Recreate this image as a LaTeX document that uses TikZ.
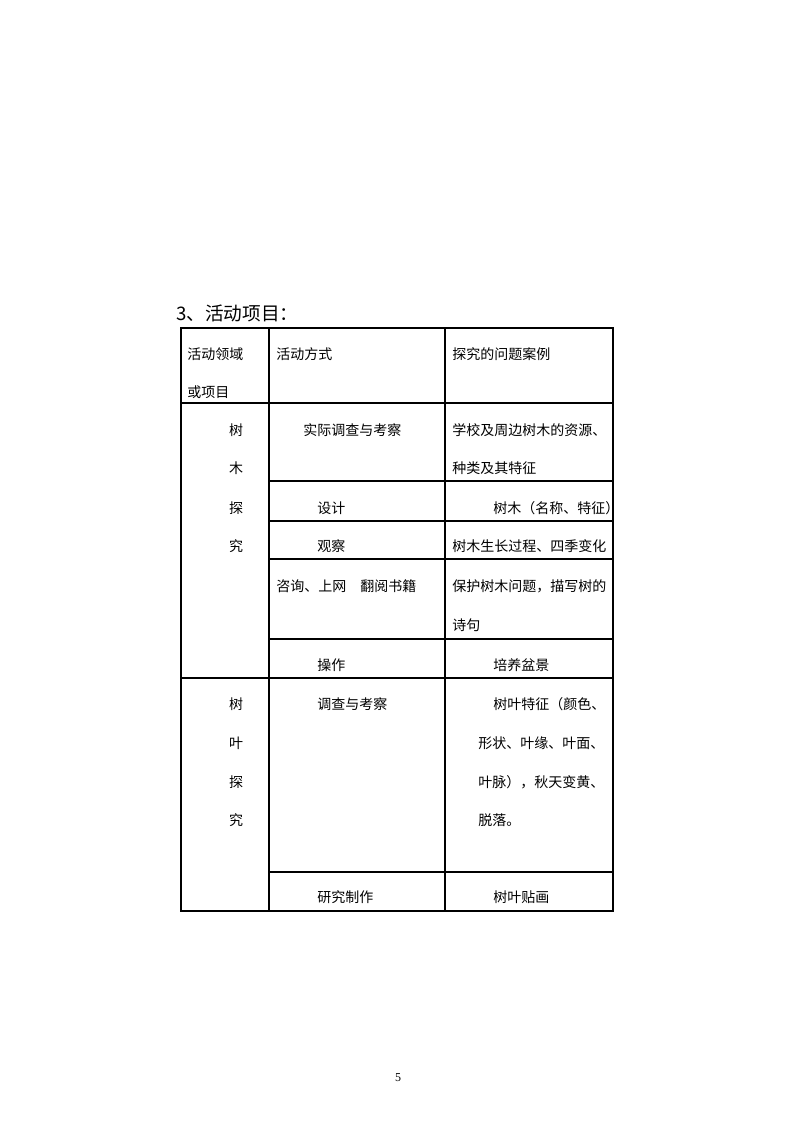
\documentclass[tikz,border=0pt]{standalone}
\usepackage{fontspec}
\setmainfont{Liberation Serif}
\newfontfamily\cjk{Noto Sans CJK SC}
\usetikzlibrary{positioning}
\tikzset{cell text/.style={anchor=west, inner sep=0pt, font=\cjk\fontsize{10.5}{12}\selectfont}}
\tikzset{col char/.style={anchor=center, inner sep=0pt, font=\cjk\fontsize{10.5}{12}\selectfont}}
\tikzset{title text/.style={anchor=west, inner sep=0pt, font=\cjk\fontsize{14}{16}\selectfont}}
\tikzset{rule line/.style={line width=0.8pt}}

\begin{document}
\begin{tikzpicture}[x=0.75pt, y=-0.75pt]
	\useasboundingbox (0,0) rectangle (794,1123);
	\node[title text] at (176,313) (title) {3、活动项目：};
	% table frame and rules
	\draw[rule line] (181,328) rectangle (613,911);
	\draw[rule line] (269,328) -- (269,911);
	\draw[rule line] (445,328) -- (445,911);
	\draw[rule line] (181,403) -- (613,403);
	\draw[rule line] (269,481) -- (613,481);
	\draw[rule line] (269,521) -- (613,521);
	\draw[rule line] (269,559) -- (613,559);
	\draw[rule line] (269,639) -- (613,639);
	\draw[rule line] (181,678) -- (613,678);
	\draw[rule line] (269,872) -- (613,872);
	% header
	\node[cell text] at (187,354) (h_1a) {活动领域};
	\node[cell text] at (187,392) (h_1b) {或项目};
	\node[cell text] at (276,354) (h_2) {活动方式};
	\node[cell text] at (452,354) (h_3) {探究的问题案例};
	% first block
	\node[col char] at (236,430) (a_1) {树};
	\node[col char] at (236,468) (a_2) {木};
	\node[col char] at (236,508) (a_3) {探};
	\node[col char] at (236,546) (a_4) {究};
	\node[cell text] at (303,430) (m_1) {实际调查与考察};
	\node[cell text] at (452,430) (q_1a) {学校及周边树木的资源、};
	\node[cell text] at (452,468) (q_1b) {种类及其特征};
	\node[cell text] at (317,508) (m_2) {设计};
	\node[cell text] at (493,508) (q_2) {树木（名称、特征）};
	\node[cell text] at (317,546) (m_3) {观察};
	\node[cell text] at (452,546) (q_3) {树木生长过程、四季变化};
	\node[cell text] at (276,586) (m_4) {咨询、上网　翻阅书籍};
	\node[cell text] at (452,586) (q_4a) {保护树木问题，描写树的};
	\node[cell text] at (452,625) (q_4b) {诗句};
	\node[cell text] at (317,665) (m_5) {操作};
	\node[cell text] at (493,665) (q_5) {培养盆景};
	% second block
	\node[col char] at (236,704) (b_1) {树};
	\node[col char] at (236,743) (b_2) {叶};
	\node[col char] at (236,782) (b_3) {探};
	\node[col char] at (236,820) (b_4) {究};
	\node[cell text] at (317,704) (n_1) {调查与考察};
	\node[cell text] at (493,704) (r_1a) {树叶特征（颜色、};
	\node[cell text] at (478,743) (r_1b) {形状、叶缘、叶面、};
	\node[cell text] at (478,782) (r_1c) {叶脉），秋天变黄、};
	\node[cell text] at (478,820) (r_1d) {脱落。};
	\node[cell text] at (317,897) (n_2) {研究制作};
	\node[cell text] at (493,897) (r_2) {树叶贴画};
	% page number
	\node[inner sep=0pt, font=\fontsize{9}{10}\selectfont] at (398,1078) (page) {5};
\end{tikzpicture}
\end{document}
